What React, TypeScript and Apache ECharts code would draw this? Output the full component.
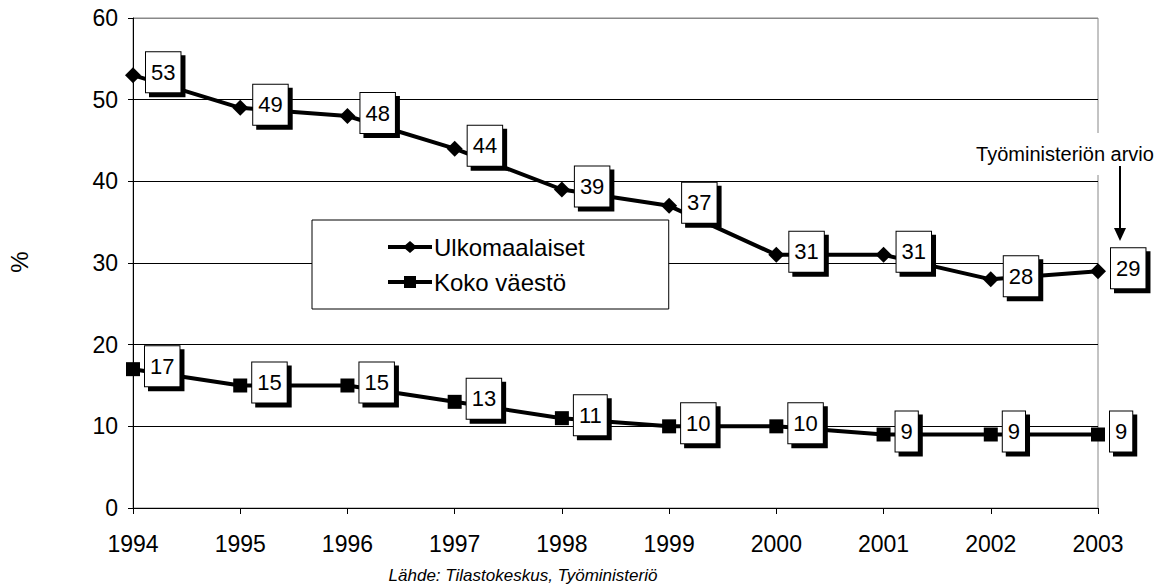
import React, { useEffect, useRef } from "react";
import * as echarts from "echarts";

const years = ["1994", "1995", "1996", "1997", "1998", "1999", "2000", "2001", "2002", "2003"];
const ulkomaalaiset = [53, 49, 48, 44, 39, 37, 31, 31, 28, 29];
const kokoVaesto = [17, 15, 15, 13, 11, 10, 10, 9, 9, 9];
const seriesNames = ["Ulkomaalaiset", "Koko väestö"];
const yAxisName = "%";
const sourceText = "Lähde: Tilastokeskus, Työministeriö";
const noteText = "Työministeriön arvio";

const FONT = "'Liberation Sans', Arial, sans-serif";

const diamondIcon = "path://M0,4H44V8H0Z M22,0L29,6L22,12L15,6Z";
const squareIcon = "path://M0,4H44V8H0Z M16,0H28V12H16Z";

export default function App() {
  const ref = useRef<HTMLDivElement>(null);
  useEffect(() => {
    if (!ref.current) return;
    const chart = echarts.init(ref.current, undefined, { renderer: "svg" });
    const labelStyle = {
      show: true,
      position: "right",
      distance: 5,
      offset: [0, -3],
      color: "#000",
      fontFamily: FONT,
      fontSize: 22,
      backgroundColor: "#fff",
      borderColor: "#000",
      borderWidth: 1,
      padding: [9, 5, 9, 5],
      shadowColor: "#000",
      shadowOffsetX: 4,
      shadowOffsetY: 4,
      shadowBlur: 0,
    };
    chart.setOption({
      animation: false,
      backgroundColor: "#fff",
      textStyle: { fontFamily: FONT, color: "#000" },
      grid: {
        left: 133,
        right: 66,
        top: 18,
        bottom: 76,
        show: true,
        borderColor: "#888",
        borderWidth: 1,
        backgroundColor: "transparent",
      },
      legend: {
        orient: "vertical",
        left: 312,
        top: 220,
        padding: [15, 84, 15, 76],
        itemGap: 11,
        itemWidth: 44,
        itemHeight: 12,
        backgroundColor: "#fff",
        borderColor: "#000",
        borderWidth: 1,
        textStyle: { fontFamily: FONT, fontSize: 24, color: "#000", padding: [0, 0, 0, -3] },
        data: [
          { name: seriesNames[0], icon: diamondIcon, itemStyle: { color: "#000", borderWidth: 0 } },
          { name: seriesNames[1], icon: squareIcon, itemStyle: { color: "#000", borderWidth: 0 } },
        ],
      },
      xAxis: {
        type: "category",
        data: years,
        boundaryGap: false,
        axisLine: { lineStyle: { color: "#000", width: 1 } },
        axisTick: { show: true, length: 6, lineStyle: { color: "#000" } },
        axisLabel: { margin: 24, fontSize: 23, color: "#000", fontFamily: FONT },
        splitLine: { show: false },
      },
      yAxis: {
        type: "value",
        min: 0,
        max: 60,
        interval: 10,
        axisLine: { show: true, lineStyle: { color: "#000", width: 1 } },
        axisTick: { show: true, length: 5, lineStyle: { color: "#000" } },
        axisLabel: { margin: 15, fontSize: 23, color: "#000", fontFamily: FONT },
        splitLine: {
          show: true,
          lineStyle: { color: ["#000", "#000", "#000", "#000", "#000", "#000", "#888"], width: 1 },
        },
      },
      series: [
        {
          name: seriesNames[0],
          type: "line",
          data: ulkomaalaiset,
          symbol: "diamond",
          symbolSize: 16,
          lineStyle: { color: "#000", width: 4 },
          itemStyle: { color: "#000" },
          label: labelStyle,
          z: 3,
        },
        {
          name: seriesNames[1],
          type: "line",
          data: kokoVaesto,
          symbol: "rect",
          symbolSize: 14,
          lineStyle: { color: "#000", width: 4 },
          itemStyle: { color: "#000" },
          label: labelStyle,
          z: 3,
        },
      ],
      graphic: [
        {
          type: "text",
          x: 19,
          y: 262,
          rotation: Math.PI / 2,
          style: {
            text: yAxisName,
            fontFamily: FONT,
            fontSize: 24,
            fill: "#000",
            align: "center",
            verticalAlign: "middle",
          },
        },
        {
          type: "text",
          x: 523,
          y: 575,
          style: {
            text: sourceText,
            fontFamily: FONT,
            fontSize: 17,
            fontStyle: "italic",
            fill: "#000",
            align: "center",
            verticalAlign: "middle",
          },
        },
        {
          type: "text",
          x: 1065,
          y: 154,
          z: 10,
          style: {
            text: noteText,
            fontFamily: FONT,
            fontSize: 20,
            fill: "#000",
            align: "center",
            verticalAlign: "middle",
            backgroundColor: "#fff",
            padding: [11, 4, 11, 4],
          },
        },
        {
          type: "line",
          z: 10,
          shape: { x1: 1120, y1: 166, x2: 1120, y2: 232 },
          style: { stroke: "#000", lineWidth: 2 },
        },
        {
          type: "polygon",
          z: 10,
          shape: { points: [[1114, 228], [1126, 228], [1120, 241]] },
          style: { fill: "#000" },
        },
      ],
    });
    return () => chart.dispose();
  }, []);
  return (
    <div
      ref={ref}
      style={{ position: "fixed", left: 0, top: 0, width: 1164, height: 584 }}
    />
  );
}
